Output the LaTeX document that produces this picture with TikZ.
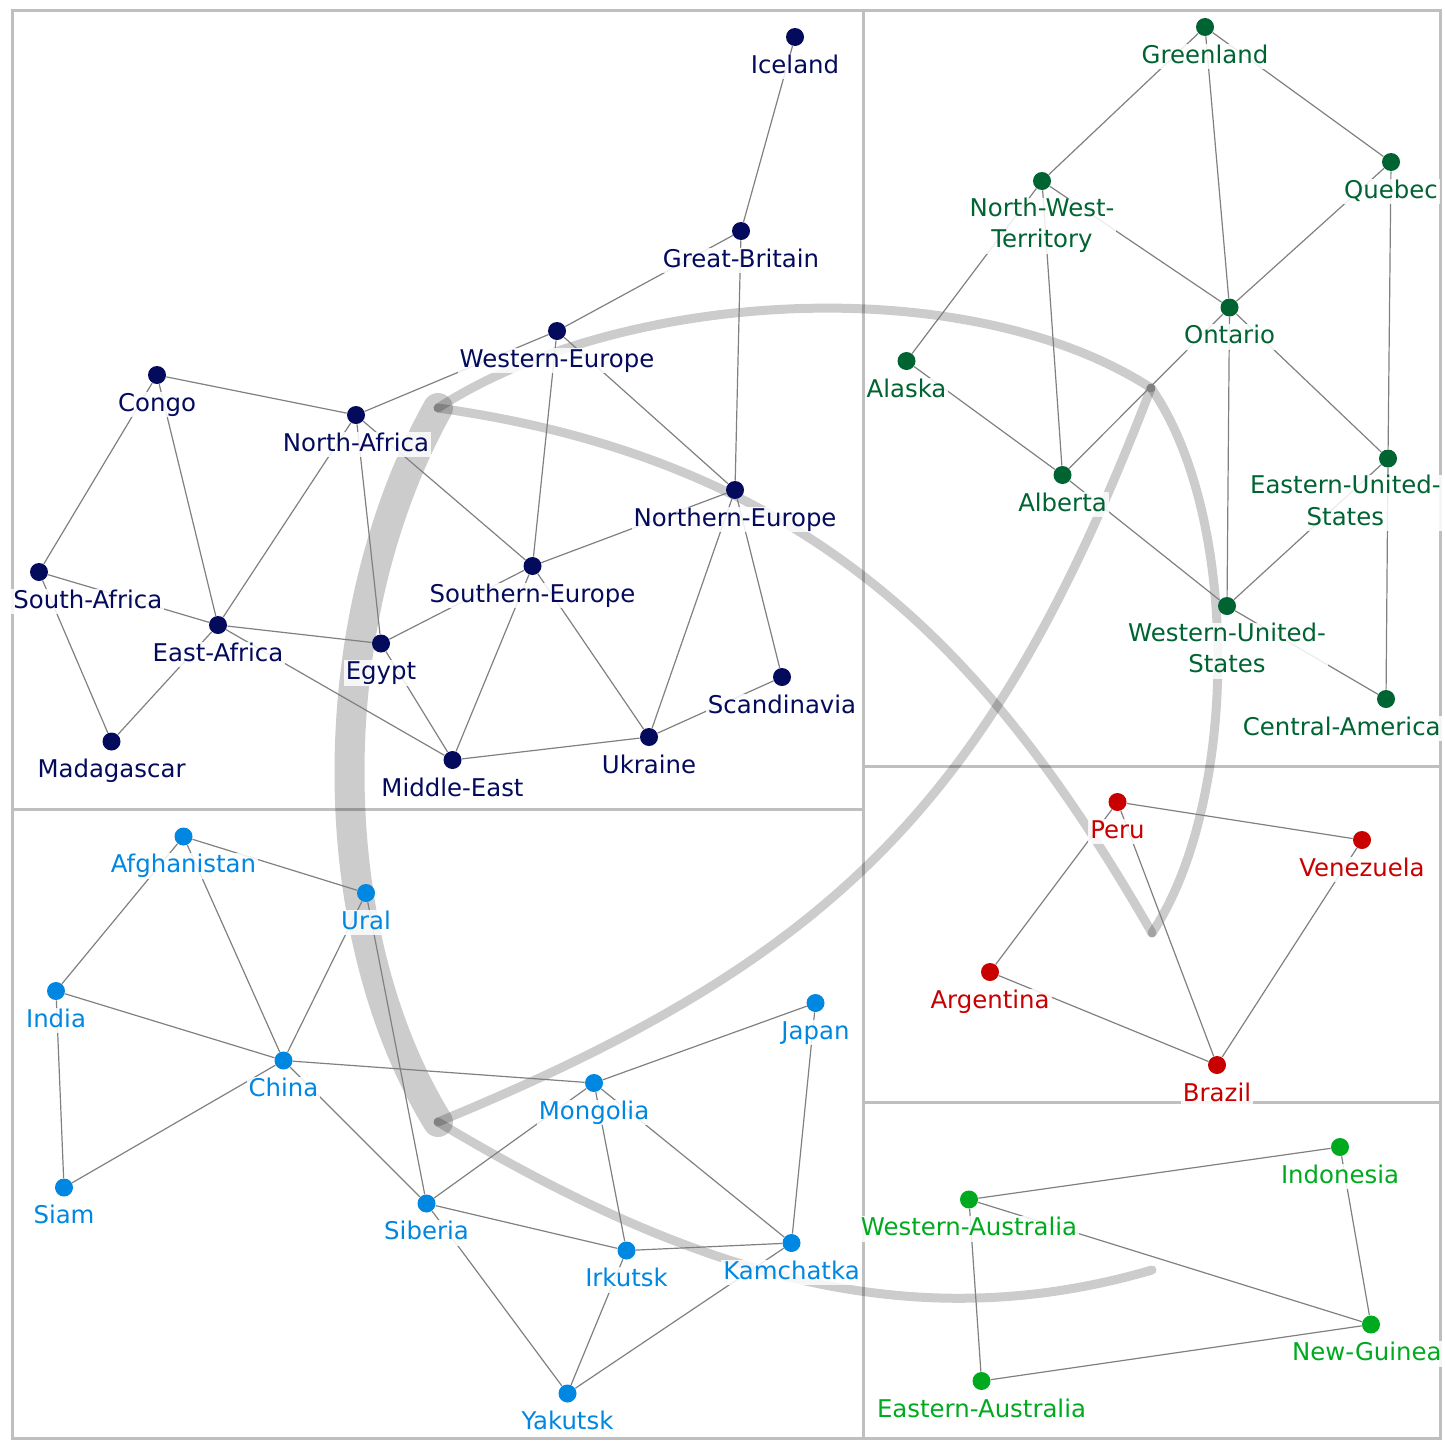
\documentclass[tikz,border=0pt]{standalone}
\usepackage{fontspec}
\setmainfont{DejaVu Sans}
\definecolor{euc}{RGB}{4,10,92}
\definecolor{nac}{RGB}{0,100,50}
\definecolor{sac}{RGB}{200,0,0}
\definecolor{auc}{RGB}{0,170,30}
\definecolor{asc}{RGB}{0,135,225}
\newcommand{\labstrut}{\rule[-3pt]{0pt}{12.8pt}}
\begin{document}
\begin{tikzpicture}[x=0.5pt,y=-0.5pt,
  frame/.style={draw=black!25, line width=1.5pt},
  bundle/.style={draw=black, draw opacity=0.2, line cap=round, line width=4.5pt},
  link/.style={draw=black!50, line width=0.6pt},
  dot/.style={circle, inner sep=0pt, minimum size=9pt, fill=#1},
  lbl/.style={text=#1, fill=white, fill opacity=0.85, text opacity=1,
    inner xsep=1pt, inner ysep=0pt, align=center, anchor=north,
    font=\fontsize{12.2}{15.6}\selectfont, execute at begin node=\labstrut},
]
\useasboundingbox (0,0) rectangle (1445,1440);

% continent frames
\draw[frame] (12,10) rectangle (1440,1438);
\draw[frame] (863,10) -- (863,1438);
\draw[frame] (12,809) -- (863,809);
\draw[frame] (863,766) -- (1440,766);
\draw[frame] (863,1102) -- (1440,1102);

% bundled links between continents
\coordinate (hubEA) at (438,408);
\coordinate (hubAS) at (438,1122);
\coordinate (hubNA) at (1151,388);
\coordinate (hubSA) at (1152,933);
\coordinate (hubAU) at (1152,1270);
\draw[bundle, line width=15pt] (hubEA) .. controls (320,620) and (320,930) .. (hubAS);
\draw[bundle] (hubEA) .. controls (621,289) and (967,269) .. (hubNA);
\draw[bundle] (hubEA) .. controls (814,461) and (992,655) .. (hubSA);
\draw[bundle] (hubNA) .. controls (1240,515) and (1240,800) .. (hubSA);
\draw[bundle] (hubNA) .. controls (994,796) and (842,956) .. (hubAS);
\draw[bundle] (hubAS) .. controls (695,1276) and (912,1340) .. (hubAU);

% Europe and Africa
\node[dot=euc] (iceland) at (795,37) {};
\node[dot=euc] (gbritain) at (741,231) {};
\node[dot=euc] (weurope) at (557,331) {};
\node[dot=euc] (congo) at (157,375) {};
\node[dot=euc] (nafrica) at (356,415) {};
\node[dot=euc] (neurope) at (735,490) {};
\node[dot=euc] (safrica) at (39,572) {};
\node[dot=euc] (seurope) at (532.5,566) {};
\node[dot=euc] (eafrica) at (218,625) {};
\node[dot=euc] (egypt) at (381,643.5) {};
\node[dot=euc] (scandinavia) at (782,677) {};
\node[dot=euc] (madagascar) at (111.5,741.5) {};
\node[dot=euc] (ukraine) at (649,737) {};
\node[dot=euc] (meast) at (452.5,760) {};

% North America
\node[dot=nac] (greenland) at (1205,27) {};
\node[dot=nac] (quebec) at (1391,162) {};
\node[dot=nac] (nwt) at (1042,181) {};
\node[dot=nac] (ontario) at (1229.5,307.5) {};
\node[dot=nac] (alaska) at (906.5,361) {};
\node[dot=nac] (alberta) at (1062.5,475) {};
\node[dot=nac] (eus) at (1388,458.5) {};
\node[dot=nac] (wus) at (1227,606) {};
\node[dot=nac] (camerica) at (1386,699) {};

% South America
\node[dot=sac] (peru) at (1117.5,802) {};
\node[dot=sac] (venezuela) at (1362,840) {};
\node[dot=sac] (argentina) at (990,972) {};
\node[dot=sac] (brazil) at (1217,1065) {};

% Australia
\node[dot=auc] (indonesia) at (1340,1147) {};
\node[dot=auc] (waustralia) at (969,1199.5) {};
\node[dot=auc] (nguinea) at (1371,1324.5) {};
\node[dot=auc] (eaustralia) at (981.5,1381) {};

% Asia
\node[dot=asc] (afghanistan) at (183.5,836.5) {};
\node[dot=asc] (ural) at (366,893) {};
\node[dot=asc] (india) at (56,991) {};
\node[dot=asc] (japan) at (815.5,1003) {};
\node[dot=asc] (china) at (283.5,1060.5) {};
\node[dot=asc] (mongolia) at (594,1083) {};
\node[dot=asc] (siam) at (64,1187.5) {};
\node[dot=asc] (siberia) at (426.5,1203.5) {};
\node[dot=asc] (irkutsk) at (626.5,1250.5) {};
\node[dot=asc] (kamchatka) at (791.5,1243) {};
\node[dot=asc] (yakutsk) at (567.5,1393.5) {};

% borders within each continent
\foreach \a/\b in {iceland/gbritain, gbritain/weurope, gbritain/neurope,
  weurope/nafrica, weurope/seurope, weurope/neurope, congo/nafrica,
  congo/safrica, congo/eafrica, nafrica/eafrica, nafrica/egypt,
  nafrica/seurope, neurope/seurope, neurope/ukraine, neurope/scandinavia,
  seurope/egypt, seurope/meast, seurope/ukraine, safrica/eafrica,
  safrica/madagascar, eafrica/egypt, eafrica/madagascar, eafrica/meast,
  egypt/meast, scandinavia/ukraine, ukraine/meast,
  greenland/nwt, greenland/ontario, greenland/quebec, nwt/ontario,
  nwt/alaska, nwt/alberta, quebec/ontario, quebec/eus, ontario/alberta,
  ontario/eus, ontario/wus, alaska/alberta, alberta/wus, eus/wus,
  eus/camerica, wus/camerica,
  peru/venezuela, peru/argentina, peru/brazil, venezuela/brazil,
  argentina/brazil,
  indonesia/waustralia, indonesia/nguinea, waustralia/nguinea,
  waustralia/eaustralia, eaustralia/nguinea,
  afghanistan/ural, afghanistan/india, afghanistan/china, ural/china,
  ural/siberia, india/china, india/siam, china/siam, china/mongolia,
  china/siberia, mongolia/japan, mongolia/siberia, mongolia/irkutsk,
  mongolia/kamchatka, japan/kamchatka, siberia/irkutsk, siberia/yakutsk,
  irkutsk/kamchatka, irkutsk/yakutsk, kamchatka/yakutsk}
  \draw[link] (\a) -- (\b);

% territory names
\node[lbl=euc, below=8.2pt] (iceland-l) at (iceland) {Iceland};
\node[lbl=euc, below=8.2pt] (gbritain-l) at (gbritain) {Great-Britain};
\node[lbl=euc, below=8.2pt] (weurope-l) at (weurope) {Western-Europe};
\node[lbl=euc, below=8.2pt] (congo-l) at (congo) {Congo};
\node[lbl=euc, below=8.2pt] (nafrica-l) at (nafrica) {North-Africa};
\node[lbl=euc, below=8.2pt] (neurope-l) at (neurope) {Northern-Europe};
\node[lbl=euc, anchor=north west] (safrica-l) at (11,588.4) {South-Africa};
\node[lbl=euc, below=8.2pt] (seurope-l) at (seurope) {Southern-Europe};
\node[lbl=euc, below=8.2pt] (eafrica-l) at (eafrica) {East-Africa};
\node[lbl=euc, below=8.2pt] (egypt-l) at (egypt) {Egypt};
\node[lbl=euc, below=8.2pt] (scandinavia-l) at (scandinavia) {Scandinavia};
\node[lbl=euc, below=8.2pt] (madagascar-l) at (madagascar) {Madagascar};
\node[lbl=euc, below=8.2pt] (ukraine-l) at (ukraine) {Ukraine};
\node[lbl=euc, below=8.2pt] (meast-l) at (meast) {Middle-East};

\node[lbl=nac, below=8.2pt] (greenland-l) at (greenland) {Greenland};
\node[lbl=nac, below=8.2pt] (quebec-l) at (quebec) {Quebec};
\node[lbl=nac, below=8.2pt] (nwt-l) at (nwt) {North-West-\\Territory};
\node[lbl=nac, below=8.2pt] (ontario-l) at (ontario) {Ontario};
\node[lbl=nac, below=8.2pt] (alaska-l) at (alaska) {Alaska};
\node[lbl=nac, below=8.2pt] (alberta-l) at (alberta) {Alberta};
\node[lbl=nac, anchor=north east] (eus-l) at (1443,474.9) {Eastern-United-\\States};
\node[lbl=nac, below=8.2pt] (wus-l) at (wus) {Western-United-\\States};
\node[lbl=nac, anchor=north east] (camerica-l) at (1443,715.4) {Central-America};

\node[lbl=sac, below=8.2pt] (peru-l) at (peru) {Peru};
\node[lbl=sac, below=8.2pt] (venezuela-l) at (venezuela) {Venezuela};
\node[lbl=sac, below=8.2pt] (argentina-l) at (argentina) {Argentina};
\node[lbl=sac, below=8.2pt] (brazil-l) at (brazil) {Brazil};

\node[lbl=auc, below=8.2pt] (indonesia-l) at (indonesia) {Indonesia};
\node[lbl=auc, below=8.2pt] (waustralia-l) at (waustralia) {Western-Australia};
\node[lbl=auc, anchor=north east] (nguinea-l) at (1444,1340.9) {New-Guinea};
\node[lbl=auc, below=8.2pt] (eaustralia-l) at (eaustralia) {Eastern-Australia};

\node[lbl=asc, below=8.2pt] (afghanistan-l) at (afghanistan) {Afghanistan};
\node[lbl=asc, below=8.2pt] (ural-l) at (ural) {Ural};
\node[lbl=asc, below=8.2pt] (india-l) at (india) {India};
\node[lbl=asc, below=8.2pt] (japan-l) at (japan) {Japan};
\node[lbl=asc, below=8.2pt] (china-l) at (china) {China};
\node[lbl=asc, below=8.2pt] (mongolia-l) at (mongolia) {Mongolia};
\node[lbl=asc, below=8.2pt] (siam-l) at (siam) {Siam};
\node[lbl=asc, below=8.2pt] (siberia-l) at (siberia) {Siberia};
\node[lbl=asc, below=8.2pt] (irkutsk-l) at (irkutsk) {Irkutsk};
\node[lbl=asc, below=8.2pt] (kamchatka-l) at (kamchatka) {Kamchatka};
\node[lbl=asc, below=8.2pt] (yakutsk-l) at (yakutsk) {Yakutsk};
\end{tikzpicture}
\end{document}
